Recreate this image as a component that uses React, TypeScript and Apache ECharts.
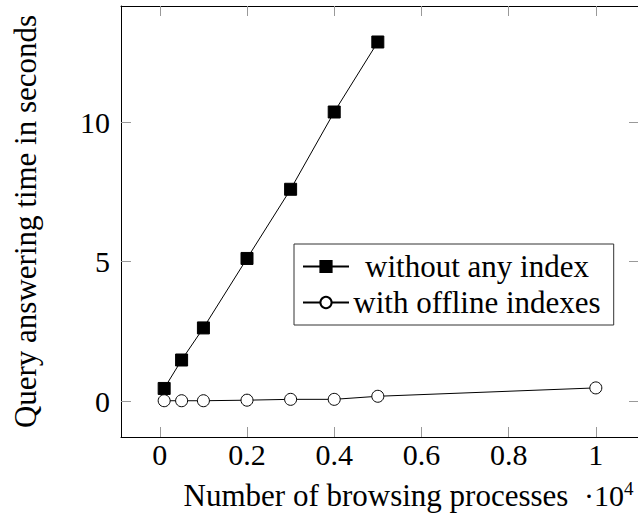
import React, { useEffect, useRef } from "react";
import * as echarts from "echarts";

const xNoIndex = [0.01, 0.05, 0.1, 0.2, 0.3, 0.4, 0.5];
const yNoIndex = [0.45, 1.47, 2.62, 5.11, 7.59, 10.36, 12.87];
const xOffline = [0.01, 0.05, 0.1, 0.2, 0.3, 0.4, 0.5, 1.0];
const yOffline = [0.01, 0.01, 0.01, 0.03, 0.06, 0.06, 0.17, 0.47];
const xTicks = [0, 0.2, 0.4, 0.6, 0.8, 1];
const yTicks = [0, 5, 10];
const seriesNames = ["without any index", "with offline indexes"];
const xLabel = "Number of browsing processes";
const yLabel = "Query answering time in seconds";

const FONT = "Liberation Serif";
const FS = 31;
const TFS = 30;

export default function App() {
  const ref = useRef<HTMLDivElement>(null);
  useEffect(() => {
    if (!ref.current) return;
    const chart = echarts.init(ref.current, null, { renderer: "svg" });
    const tickStyle = { show: true, inside: true, length: 10, lineStyle: { color: "#999", width: 1 } };
    const xMin = -0.089, xMax = 1.099, yMin = -1.29, yMax = 14.16;
    chart.setOption({
      animation: false,
      backgroundColor: "#fff",
      textStyle: { fontFamily: FONT, color: "#000" },
      grid: { left: 121, top: 6, width: 518, height: 431, containLabel: false },
      xAxis: [
        {
          type: "value", min: xMin, max: xMax, position: "bottom",
          name: xLabel, nameLocation: "middle", nameGap: 43,
          nameTextStyle: { fontFamily: FONT, fontSize: FS, color: "#000", padding: [0, 0, 0, -8] },
          axisLine: { show: true, onZero: false, lineStyle: { color: "#000", width: 1 } },
          axisTick: { ...tickStyle, customValues: xTicks },
          axisLabel: { customValues: xTicks, fontFamily: FONT, fontSize: TFS, color: "#000", margin: 2 },
          splitLine: { show: false },
        },
        {
          type: "value", min: xMin, max: xMax, position: "top",
          axisLine: { show: true, onZero: false, lineStyle: { color: "#000", width: 1 } },
          axisTick: { ...tickStyle, customValues: xTicks },
          axisLabel: { show: false },
          splitLine: { show: false },
        },
      ],
      yAxis: [
        {
          type: "value", min: yMin, max: yMax, position: "left",
          name: yLabel, nameLocation: "middle", nameGap: 80, nameRotate: 90,
          nameTextStyle: { fontFamily: FONT, fontSize: FS, color: "#000" },
          axisLine: { show: true, onZero: false, lineStyle: { color: "#000", width: 1 } },
          axisTick: { ...tickStyle, customValues: yTicks },
          axisLabel: { customValues: yTicks, fontFamily: FONT, fontSize: TFS, color: "#000", margin: 11 },
          splitLine: { show: false },
        },
        {
          type: "value", min: yMin, max: yMax, position: "right",
          axisLine: { show: true, onZero: false, lineStyle: { color: "#000", width: 1 } },
          axisTick: { ...tickStyle, customValues: yTicks },
          axisLabel: { show: false },
          splitLine: { show: false },
        },
      ],
      legend: {
        orient: "vertical",
        left: 294, top: 244,
        padding: [7, 13, 7, 8],
        itemGap: 5,
        itemWidth: 46, itemHeight: 14,
        borderColor: "#333", borderWidth: 1,
        backgroundColor: "#fff",
        formatter: "{c|{name}}",
        textStyle: {
          fontFamily: FONT, fontSize: FS, color: "#000",
          rich: { c: { fontFamily: FONT, fontSize: FS, color: "#000", width: 246, align: "center" } },
        },
        data: seriesNames,
      },
      graphic: [
        {
          type: "text", left: 584, top: 479,
          style: {
            text: "·10{s|4}",
            fontFamily: FONT, fontSize: 30, fill: "#000",
            rich: { s: { fontFamily: FONT, fontSize: 19, verticalAlign: "top", padding: [0, 0, 14, 0] } },
          },
        },
      ],
      series: [
        {
          name: seriesNames[0], type: "line",
          data: xNoIndex.map((x, i) => [x, yNoIndex[i]]),
          symbol: "rect", symbolSize: 12,
          lineStyle: { color: "#000", width: 1 },
          itemStyle: { color: "#000", borderColor: "#000", borderWidth: 1 },
          z: 3,
        },
        {
          name: seriesNames[1], type: "line",
          data: xOffline.map((x, i) => [x, yOffline[i]]),
          symbol: "circle", symbolSize: 12,
          lineStyle: { color: "#000", width: 1 },
          itemStyle: { color: "#fff", borderColor: "#000", borderWidth: 1 },
          z: 4,
        },
      ],
    });
    return () => chart.dispose();
  }, []);
  return (
    <div style={{ position: "fixed", left: 0, top: 0, width: 638, height: 516, overflow: "hidden", background: "#fff" }}>
      <div ref={ref} style={{ width: 700, height: 516 }} />
    </div>
  );
}
